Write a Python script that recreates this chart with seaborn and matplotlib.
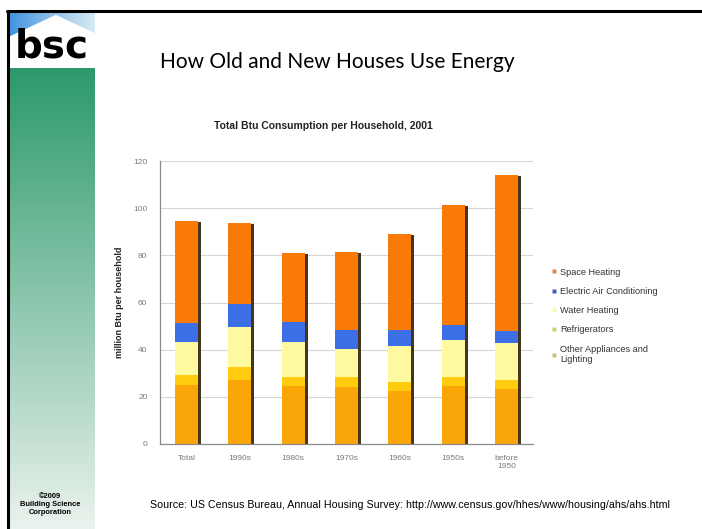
import numpy as np
import pandas as pd
import matplotlib
matplotlib.use("Agg")
import matplotlib.pyplot as plt
import matplotlib.patheffects as pe
from matplotlib.lines import Line2D
from matplotlib.patches import Polygon
import seaborn as sns

# ---- data (million Btu per household, 2001) ----
categories = ["Total", "1990s", "1980s", "1970s", "1960s", "1950s", "before\n1950"]
other_appliances = [25.0, 27.0, 24.5, 24.0, 22.5, 24.5, 23.5]
refrigerators = [4.2, 5.7, 4.0, 4.2, 3.9, 4.0, 3.6]
water_heating = [14.1, 17.0, 14.8, 11.9, 15.1, 15.5, 15.8]
air_conditioning = [8.1, 9.6, 8.5, 8.2, 6.8, 6.4, 5.0]
space_heating = [43.1, 34.2, 29.0, 33.2, 40.6, 50.8, 66.0]

series_names = ["Space Heating", "Electric Air Conditioning", "Water Heating",
                "Refrigerators", "Other Appliances and\nLighting"]
series_colors = ["#FA7A08", "#3C6FE6", "#FFFAA0", "#FFCC10", "#FBA608"]
legend_colors = ["#D98A50", "#4060C8", "#FFF6B0", "#C8D070", "#C8C080"]

sns.set_theme(style="white")
plt.rcParams["font.family"] = ["Liberation Sans", "DejaVu Sans"]

fig = plt.figure(figsize=(7.02, 5.29), dpi=100)
fig.patch.set_facecolor("white")

W, H = 702.0, 529.0


def fx(px):
    return px / W


def fy(py):
    return 1 - py / H


# ---- left decorative strip ----
strip = fig.add_axes([fx(8), 0, fx(95) - fx(8), fy(68)])
grad = np.linspace(0, 1, 256)[:, None]
top_c = np.array([0.17, 0.60, 0.42])
bot_c = np.array([0.92, 0.95, 0.93])
img = top_c[None, None, :] * (1 - grad[..., None]) + bot_c[None, None, :] * grad[..., None]
img = np.repeat(img, 4, axis=1)
strip.imshow(img, aspect="auto", extent=[0, 1, 0, 1], origin="upper")
strip.set_axis_off()

logo = fig.add_axes([fx(8), fy(68), fx(95) - fx(8), fy(12) - fy(68)])
logo.set_xlim(0, 1)
logo.set_ylim(0, 1)
sky = np.linspace(0, 1, 64)[None, :]
sky_img = np.stack([0.25 + 0.60 * sky, 0.58 + 0.34 * sky, 0.88 + 0.08 * sky], axis=-1)
sky_img = np.repeat(sky_img, 8, axis=0)
logo.imshow(sky_img, aspect="auto", extent=[0, 1, 0, 1])
logo.add_patch(Polygon([[0.0, 0.55], [0.55, 0.95], [1.0, 0.62], [1.0, 0.0], [0.0, 0.0]],
                       closed=True, facecolor="white", edgecolor="none"))
logo.text(0.5, 0.05, "bsc", ha="center", va="bottom", fontsize=28, fontweight="bold",
          color="black", family="DejaVu Sans Condensed")
logo.set_axis_off()

fig.text(fx(50), fy(504), "©2009\nBuilding Science\nCorporation", ha="center", va="center",
         fontsize=5.4, fontweight="bold", color="black", linespacing=1.2)

# slide frame
fig.add_artist(Line2D([fx(7), 1], [fy(11), fy(11)], color="black", lw=2.2))
fig.add_artist(Line2D([fx(8), fx(8)], [0, fy(11)], color="black", lw=2.2))

# ---- titles ----
fig.text(fx(160), fy(62), "How Old and New Houses Use Energy", ha="left", va="center",
         fontsize=15, color="black", family="Lato")
fig.text(fx(323), fy(126), "Total Btu Consumption per Household, 2001", ha="center",
         va="center", fontsize=7.5, fontweight="bold", color="#222222")

# ---- stacked bar chart ----
ax = fig.add_axes([fx(160), fy(444), fx(533) - fx(160), fy(161) - fy(444)])

df = pd.DataFrame({
    "category": categories,
    "Other Appliances and\nLighting": other_appliances,
    "Refrigerators": refrigerators,
    "Water Heating": water_heating,
    "Electric Air Conditioning": air_conditioning,
    "Space Heating": space_heating,
})
stack_order = ["Other Appliances and\nLighting", "Refrigerators", "Water Heating",
               "Electric Air Conditioning", "Space Heating"]
cum = df[stack_order].cumsum(axis=1)

color_of = dict(zip(series_names, series_colors))
for i, name in enumerate(reversed(stack_order)):
    n_before = len(ax.patches)
    sns.barplot(x=df["category"], y=cum[name], color=color_of[name], saturation=1,
                width=0.43, ax=ax, linewidth=0, order=categories)
    if i == 0:
        for p in ax.patches[n_before:]:
            p.set_path_effects([pe.SimplePatchShadow(offset=(2.2, -0.6),
                                                     shadow_rgbFace="#3a2a12", alpha=0.95),
                                pe.Normal()])

ax.set_ylim(0, 120)
ax.set_xlim(-0.5, len(categories) - 0.5)
ax.set_yticks(np.arange(0, 121, 20))
ax.yaxis.grid(True, color="#d6d6d6", lw=0.8)
ax.xaxis.grid(False)
ax.set_axisbelow(True)
for s in ["top", "right"]:
    ax.spines[s].set_visible(False)
for s in ["left", "bottom"]:
    ax.spines[s].set_color("#8a8a8a")
    ax.spines[s].set_linewidth(0.9)
ax.set_xlabel("")
ax.set_ylabel("million Btu per household", fontsize=6.5, fontweight="bold",
              color="#222222", labelpad=7)
ax.tick_params(axis="y", labelsize=6, colors="#7a7a7a", length=3, direction="out",
               width=0.8, pad=6)
ax.tick_params(axis="x", which="major", labelsize=6, colors="#7a7a7a", length=0, pad=8)
ax.set_xticks(np.arange(-0.5, len(categories), 1.0), minor=True)
ax.tick_params(axis="x", which="minor", length=4, direction="inout", color="#8a8a8a",
               width=0.8)
for lab in ax.get_xticklabels():
    lab.set_color("#7a7a7a")
ax.set_facecolor("white")

# ---- legend ----
handles = [Line2D([0], [0], marker="s", linestyle="none", markersize=3.5,
                  markerfacecolor=c, markeredgecolor="none")
           for c in legend_colors]
fig.legend(handles, series_names, loc="upper left", bbox_to_anchor=(fx(548), fy(264)),
           frameon=False, fontsize=6.6, labelspacing=1.12, handlelength=0.6,
           handletextpad=0.35, labelcolor="#333333", borderaxespad=0)

# ---- source line ----
fig.text(fx(150), fy(505),
         "Source: US Census Bureau, Annual Housing Survey: http://www.census.gov/hhes/www/housing/ahs/ahs.html",
         ha="left", va="center", fontsize=7.7, color="black")

fig.savefig("out.png", dpi=100, facecolor="white")
